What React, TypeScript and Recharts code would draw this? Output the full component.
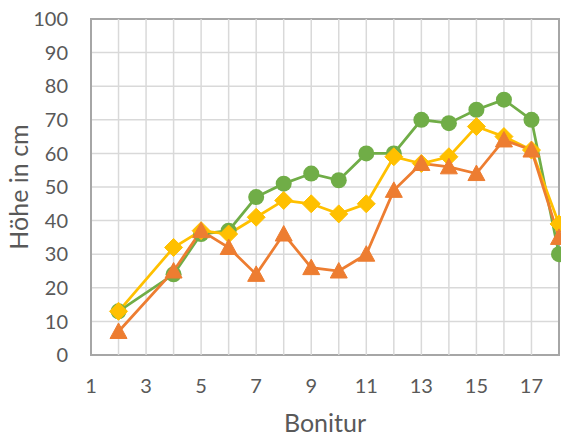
import { CartesianGrid, Label, Line, LineChart, ReferenceArea, ReferenceLine, XAxis, YAxis } from 'recharts';

const bonitur = [2, 4, 5, 6, 7, 8, 9, 10, 11, 12, 13, 14, 15, 16, 17, 18];
const greenValues = [13, 24, 36, 37, 47, 51, 54, 52, 60, 60, 70, 69, 73, 76, 70, 30];
const yellowValues = [13, 32, 37, 36, 41, 46, 45, 42, 45, 59, 57, 59, 68, 65, 61, 39];
const orangeValues = [7, 25, 37, 32, 24, 36, 26, 25, 30, 49, 57, 56, 54, 64, 61, 35];

const xTicks = [1, 3, 5, 7, 9, 11, 13, 15, 17];
const xGrid = [2, 3, 4, 5, 6, 7, 8, 9, 10, 11, 12, 13, 14, 15, 16, 17];
const yTicks = [0, 10, 20, 30, 40, 50, 60, 70, 80, 90, 100];

const data = bonitur.map((b, i) => ({
  bonitur: b,
  green: greenValues[i],
  yellow: yellowValues[i],
  orange: orangeValues[i],
}));

const GREEN = '#70AD47';
const YELLOW = '#FFC000';
const ORANGE = '#ED7D31';
const textColor = '#595959';
const font = 'Lato, "Open Sans", sans-serif';

function Diamond(props: any) {
  const { cx, cy } = props;
  if (cx == null || cy == null) return null;
  const h = 9;
  return <path d={`M${cx},${cy - h}L${cx + h},${cy}L${cx},${cy + h}L${cx - h},${cy}Z`} fill={YELLOW} stroke={YELLOW} strokeWidth={1} />;
}

function Triangle(props: any) {
  const { cx, cy } = props;
  if (cx == null || cy == null) return null;
  return <path d={`M${cx},${cy - 8.5}L${cx + 8.5},${cy + 7}L${cx - 8.5},${cy + 7}Z`} fill={ORANGE} stroke={ORANGE} strokeWidth={1} />;
}

export default function App() {
  return (
    <div style={{ position: 'absolute', left: 0, top: 0, width: 561, height: 440, background: '#fff' }}>
      <LineChart width={561} height={440} data={data} margin={{ top: 19, right: 2, bottom: 0, left: 0 }}>
        <CartesianGrid vertical={false} stroke="#d9d9d9" strokeWidth={1.5} />
        {xGrid.map((v) => (
          <ReferenceLine key={v} x={v} stroke="#d9d9d9" strokeWidth={1.5} />
        ))}
        <ReferenceArea x1={1} x2={18} y1={0} y2={100} fill="none" stroke="#a6a6a6" strokeWidth={2} ifOverflow="visible" />
        <XAxis
          dataKey="bonitur"
          type="number"
          domain={[1, 18]}
          ticks={xTicks}
          axisLine={false}
          tickLine={false}
          tickSize={0}
          tickMargin={24}
          height={85}
          tick={{ fill: textColor, fontSize: 20, fontFamily: font }}
        >
          <Label value="Bonitur" position="insideBottom" offset={8} fill={textColor} fontSize={25} fontFamily={font} />
        </XAxis>
        <YAxis
          type="number"
          domain={[0, 100]}
          ticks={yTicks}
          axisLine={false}
          tickLine={false}
          tickSize={0}
          tickMargin={23}
          width={91}
          tick={{ fill: textColor, fontSize: 20, fontFamily: font }}
        >
          <Label
            value="Höhe in cm"
            angle={-90}
            position="insideLeft"
            offset={19}
            fill={textColor}
            fontSize={25}
            fontFamily={font}
            style={{ textAnchor: 'middle' }}
          />
        </YAxis>
        <Line dataKey="green" stroke={GREEN} strokeWidth={2.75} dot={{ r: 8, fill: GREEN, stroke: GREEN, strokeWidth: 0 }} isAnimationActive={false} />
        <Line dataKey="yellow" stroke={YELLOW} strokeWidth={2.75} dot={<Diamond />} isAnimationActive={false} />
        <Line dataKey="orange" stroke={ORANGE} strokeWidth={2.75} dot={<Triangle />} isAnimationActive={false} />
      </LineChart>
    </div>
  );
}
